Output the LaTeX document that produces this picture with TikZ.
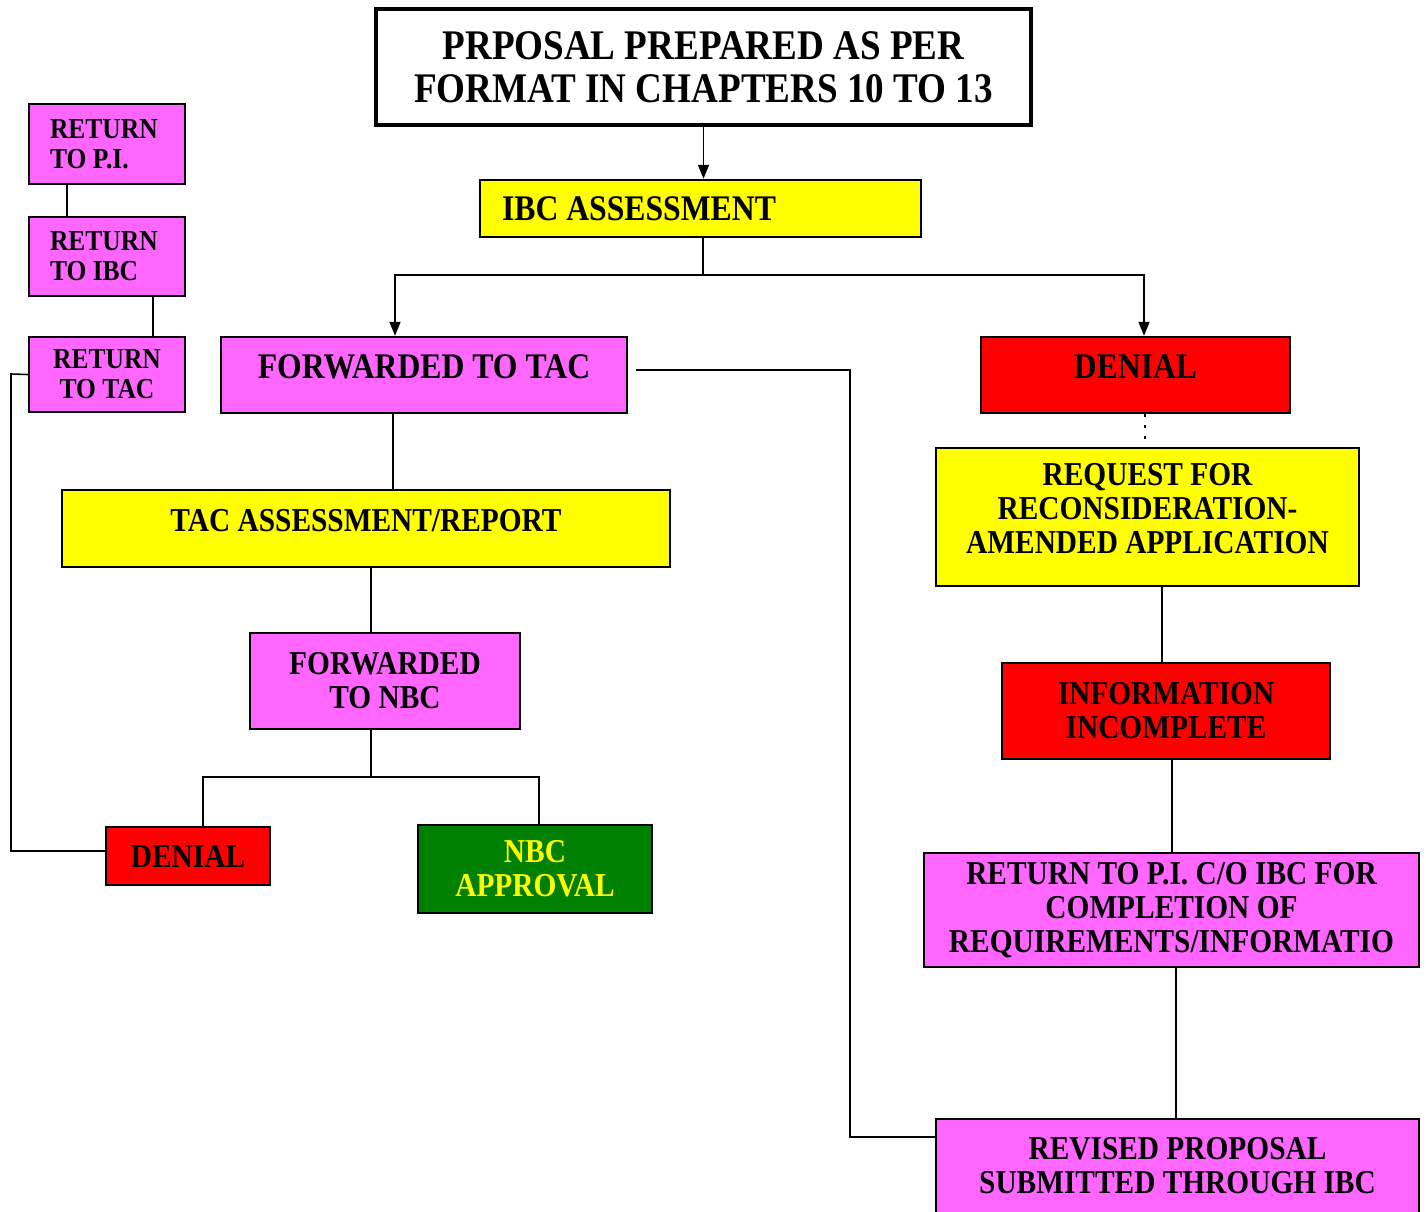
\documentclass[tikz,border=0pt]{standalone}
\usepackage{fontspec}
\setmainfont{Liberation Serif}[FakeStretch=0.88]
\usepackage{xcolor}
\usepackage{tikz}
\usetikzlibrary{arrows.meta,positioning}
\definecolor{FlowPink}{HTML}{FF66FF}
\definecolor{FlowYellow}{HTML}{FFFF00}
\definecolor{FlowRed}{HTML}{FF0000}
\definecolor{FlowGreen}{HTML}{008000}

\begin{document}
\begin{tikzpicture}[
  x=0.02cm, y=-0.02cm,
  box/.style={draw, line width=1.4pt, align=center, inner sep=0pt, font=\fontsize{19}{19.3}\selectfont\bfseries},
  sz/.style 2 args={minimum width=#1*0.02cm, minimum height=#2*0.02cm},
  pinkbox/.style={box, fill=FlowPink},
  yellowbox/.style={box, fill=FlowYellow},
  redbox/.style={box, fill=FlowRed},
  greenbox/.style={box, fill=FlowGreen, text=FlowYellow},
  smallbox/.style={pinkbox, font=\fontsize{16.5}{17}\selectfont\bfseries},
  bigtext/.style={font=\fontsize{20.5}{20.5}\selectfont\bfseries},
  textup/.style={text depth=0.34cm},
  line/.style={line width=0.9pt},
  arrow/.style={line, -{Triangle[length=0.28cm, width=0.22cm]}}
]
  \useasboundingbox (0,0) rectangle (1426,1211);

  \node[box, line width=2.8pt, sz={655}{116}, font=\fontsize{24}{24.4}\selectfont\bfseries] (prop) at (703.5,67) {PRPOSAL PREPARED AS PER\\FORMAT IN CHAPTERS 10 TO 13};
  \node[yellowbox, sz={441}{57}, bigtext, text width=7.94cm, align=flush left, inner xsep=0.44cm] (ibc) at (700.5,208.5) {IBC ASSESSMENT};

  \node[pinkbox, sz={406}{76}, bigtext, textup] (fwdtac) at (424,375) {FORWARDED TO TAC};
  \node[yellowbox, sz={608}{77}, textup] (tac) at (366,528.5) {TAC ASSESSMENT/REPORT};
  \node[pinkbox, sz={270}{96}] (fwdnbc) at (385,681) {FORWARDED\\TO NBC};
  \node[redbox, sz={164}{58}] (denl) at (188,856) {DENIAL};
  \node[greenbox, sz={234}{88}] (nbc) at (535,869) {NBC\\APPROVAL};

  \node[redbox, sz={309}{76}, bigtext, textup] (denr) at (1135.5,375) {DENIAL};
  \node[yellowbox, sz={423}{138}, textup] (req) at (1147.5,517) {REQUEST FOR\\RECONSIDERATION-\\AMENDED APPLICATION};
  \node[redbox, sz={328}{96}] (info) at (1166,711) {INFORMATION\\INCOMPLETE};
  \node[pinkbox, sz={495}{114}] (retpic) at (1171.5,910) {RETURN TO P.I. C/O IBC FOR\\COMPLETION OF\\REQUIREMENTS/INFORMATIO};
  \node[pinkbox, sz={483}{94}] (revd) at (1177.5,1166) {REVISED PROPOSAL\\SUBMITTED THROUGH IBC};

  \node[smallbox, sz={156}{80}, text width=2.28cm, align=flush left, inner xsep=0.42cm] (retpi) at (107,144) {RETURN\\TO P.I.};
  \node[smallbox, sz={156}{79}, text width=2.28cm, align=flush left, inner xsep=0.42cm] (retibc) at (107,256.5) {RETURN\\TO IBC};
  \node[smallbox, sz={156}{75}] (rettac) at (107,374.5) {RETURN\\TO TAC};

  \coordinate (ibcsplit) at (703,275);
  \coordinate (nbcsplit) at (371,777);

  \draw[arrow] (prop.south) -- (prop.south |- ibc.north);
  \draw[line] (ibc.south -| ibcsplit) -- (ibcsplit);
  \draw[arrow] (ibcsplit) -| ([xshift=-0.58cm]fwdtac.north);
  \draw[arrow] (ibcsplit) -| ([xshift=0.17cm]denr.north);

  \draw[line] (fwdtac.south -| 393,0) -- (tac.north -| 393,0);
  \draw[line] (tac.south -| 371,0) -- (fwdnbc.north -| 371,0);
  \draw[line] (fwdnbc.south -| nbcsplit) -- (nbcsplit);
  \draw[line] (nbcsplit) -| (denl.north -| 203,0);
  \draw[line] (nbcsplit) -| (nbc.north -| 539,0);
  \draw[line] ([yshift=0.1cm]denl.west) -| (11,374) -- (rettac.west);
  \draw[line] ([xshift=0.16cm,yshift=0.1cm]fwdtac.east) -| (850,1137) -- (revd.west |- 850,1137);

  \draw[line width=1.3pt, dash pattern=on 1.3pt off 5pt] ([xshift=0.19cm]denr.south) -- ([xshift=0.19cm]denr.south |- req.north);
  \draw[line] (req.south -| 1162,0) -- (info.north -| 1162,0);
  \draw[line] (info.south -| 1172,0) -- (retpic.north -| 1172,0);
  \draw[line] (retpic.south -| 1176,0) -- (revd.north -| 1176,0);

  \draw[line] (retpi.south -| 67,0) -- (retibc.north -| 67,0);
  \draw[line] (retibc.south -| 153,0) -- (rettac.north -| 153,0);
\end{tikzpicture}
\end{document}
